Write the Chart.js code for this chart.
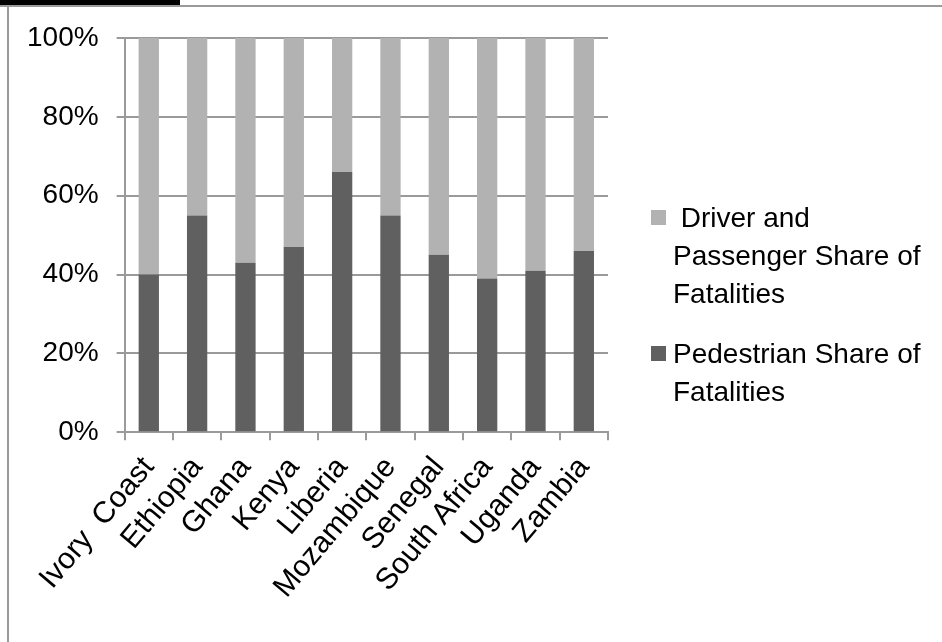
<!DOCTYPE html>
<html>
<head>
<meta charset="utf-8">
<script src="https://cdn.jsdelivr.net/npm/chart.js@4"></script>
<style>
  html, body { margin: 0; padding: 0; background: #fff; }
  #wrap { position: relative; width: 942px; height: 642px; overflow: hidden; font-family: "Liberation Sans", Arial, sans-serif; }
  #topbar { position: absolute; left: 0; top: 0; width: 180px; height: 5px; background: #000; }
  #topline { position: absolute; left: 0; top: 5px; width: 942px; height: 2px; background: #9a9a9a; }
  #leftline { position: absolute; left: 7px; top: 5px; width: 2px; height: 637px; background: #9a9a9a; }
  #plansChart { position: absolute; left: 0; top: 0; }
  #legend { position: absolute; left: 651px; top: 199px; width: 270px; }
  .item { position: relative; padding-left: 22px; font-size: 28px; line-height: 38px; color: #000; margin-bottom: 22px; width: 256px; }
  .box { position: absolute; left: 0; top: 11px; width: 15px; height: 15px; }
</style>
</head>
<body>
<div id="wrap">
  <canvas id="plansChart" width="942" height="642"></canvas>
  <div id="topbar"></div>
  <div id="topline"></div>
  <div id="leftline"></div>
  <div id="legend"></div>
</div>
<script>
// dados
const countries = ['Ivory  Coast', 'Ethiopia', 'Ghana', 'Kenya', 'Liberia', 'Mozambique', 'Senegal', 'South Africa', 'Uganda', 'Zambia'];
const pedestrianShare = [40, 55, 43, 47, 66, 55, 45, 39, 41, 46];
const driverShare = [60, 45, 57, 53, 34, 45, 55, 61, 59, 54];
const yTicks = [0, 20, 40, 60, 80, 100];
const seriesLabels = ['Pedestrian Share of Fatalities', '\u00a0Driver and Passenger Share of Fatalities'];
const seriesColors = ['#606060', '#b2b2b2'];

const fontFamily = '"Liberation Sans", Arial, sans-serif';

document.addEventListener('DOMContentLoaded', function() {
    const ctx = document.getElementById('plansChart');
    const chart = new Chart(ctx, {
        type: 'bar',
        data: {
            labels: countries,
            datasets: [{
                label: seriesLabels[0],
                data: pedestrianShare,
                backgroundColor: seriesColors[0],
                borderWidth: 0,
                categoryPercentage: 1,
                barPercentage: 0.42
            }, {
                label: seriesLabels[1],
                data: driverShare,
                backgroundColor: seriesColors[1],
                borderWidth: 0,
                categoryPercentage: 1,
                barPercentage: 0.42
            }]
        },
        options: {
            responsive: false,
            animation: false,
            layout: {
                padding: { left: 9, top: 38, right: 334, bottom: 27 }
            },
            plugins: {
                legend: { display: false },
                tooltip: { enabled: false }
            },
            scales: {
                x: {
                    stacked: true,
                    grid: {
                        drawOnChartArea: false,
                        drawTicks: true,
                        tickLength: 8,
                        color: '#9a9a9a',
                        lineWidth: 2
                    },
                    border: { color: '#9a9a9a', width: 2 },
                    ticks: {
                        color: '#000',
                        font: { family: fontFamily, size: 30 },
                        minRotation: 50,
                        maxRotation: 50,
                        autoSkip: false,
                        padding: 10
                    }
                },
                y: {
                    stacked: true,
                    min: 0,
                    max: 100,
                    afterBuildTicks: function(axis) {
                        axis.ticks = yTicks.map(v => ({ value: v }));
                    },
                    grid: {
                        color: '#9a9a9a',
                        lineWidth: 2,
                        tickLength: 8
                    },
                    border: { color: '#9a9a9a', width: 2 },
                    ticks: {
                        color: '#000',
                        font: { family: fontFamily, size: 28 },
                        padding: 18,
                        callback: function(v) { return v + '%'; }
                    }
                }
            }
        }
    });

    // legenda em HTML (ordem invertida, como no original)
    const legend = document.getElementById('legend');
    chart.data.datasets.slice().reverse().forEach(ds => {
        const item = document.createElement('div');
        item.className = 'item';
        const box = document.createElement('span');
        box.className = 'box';
        box.style.background = ds.backgroundColor;
        item.appendChild(box);
        item.appendChild(document.createTextNode(ds.label));
        legend.appendChild(item);
    });
});
</script>
</body>
</html>
